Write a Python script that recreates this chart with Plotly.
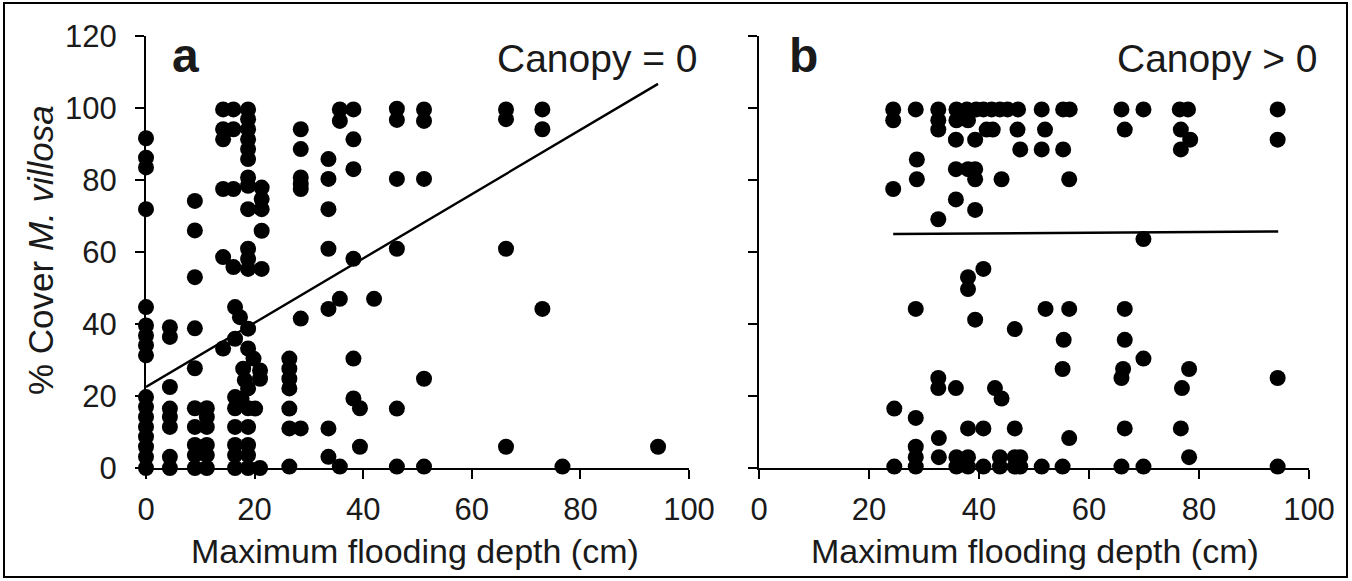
import plotly.graph_objects as go

# Panel a: plots without canopy (Canopy = 0)
a_depth = [
    0, 0, 0, 0, 0, 0, 0, 0, 0, 0, 0, 0, 0, 0, 0, 0, 0,
    4.4, 4.4, 4.4, 4.4, 4.4, 4.4, 4.4, 4.4,
    9, 9, 9, 9, 9, 9, 9, 9, 9, 9,
    11.2, 11.2, 11.2, 11.2, 11.2, 11.2,
    14.2, 14.2, 14.2, 14.2, 14.2, 14.2,
    16.1, 16.1, 16.1, 16.1,
    16.4, 16.4, 16.4, 16.4, 16.4, 16.4, 16.4, 16.4,
    17.3, 17.6, 17.9, 18.2,
    18.8, 18.8, 18.8, 18.8, 18.8, 18.8, 18.8, 18.8, 18.8, 18.8,
    18.8, 18.8, 18.8, 18.8, 18.8, 18.8, 18.8, 18.8, 18.8, 18.8,
    19.8, 20.1, 21, 21, 21,
    21.3, 21.3, 21.3, 21.3, 21.3,
    26.4, 26.4, 26.4, 26.4, 26.4, 26.4, 26.4,
    28.5, 28.5, 28.5, 28.5, 28.5, 28.5, 28.5,
    33.6, 33.6, 33.6, 33.6, 33.6, 33.6, 33.6,
    35.7, 35.7, 35.7, 35.7,
    38.2, 38.2, 38.2, 38.2, 38.2, 38.2,
    39.4, 39.4,
    42,
    46.2, 46.2, 46.2, 46.2, 46.2, 46.2,
    51.2, 51.2, 51.2, 51.2, 51.2,
    66.3, 66.3, 66.3, 66.3,
    73, 73, 73,
    76.7,
    94.3,
]
a_cover = [
    91.6, 86.2, 83.5, 71.9, 44.7, 39.6, 36.8, 34.1, 31.3, 19.7, 17.0, 14.2, 11.4, 8.7, 5.9, 3.1, 0,
    39.1, 36.4, 22.5, 16.5, 14.2, 11.4, 3.1, 0,
    74.2, 66, 53, 38.8, 27.7, 16.6, 11.4, 6.4, 3.6, 0,
    16.6, 14.2, 11.4, 6.4, 3.6, 0,
    99.6, 94.1, 91.3, 77.5, 58.6, 33.2,
    99.6, 94.1, 77.5, 55.8,
    44.7, 35.9, 19.7, 16.6, 11.4, 6.4, 3.6, 0,
    41.9, 19.3, 27.6, 24.4,
    99.6, 96.9, 94.1, 91.3, 88.6, 85.8, 80.7, 78.4, 71.9, 60.9,
    58.1, 55.3, 38.7, 33.2, 22.1, 16.6, 11.4, 6.4, 3.6, 0,
    30.4, 16.5, 27.1, 24.8, 0,
    77.9, 74.7, 71.9, 65.9, 55.3,
    30.4, 27.6, 24.8, 22.1, 16.5, 11, 0.4,
    94.1, 88.6, 80.7, 78.9, 77.5, 41.5, 11,
    85.8, 80.3, 71.9, 60.9, 44.2, 11, 3.1,
    99.6, 96.4, 47, 0.4,
    99.6, 91.3, 83, 58.1, 30.4, 19.3,
    16.6, 5.9,
    47,
    99.8, 96.7, 80.3, 60.9, 16.5, 0.4,
    99.6, 96.4, 80.3, 24.8, 0.4,
    99.6, 96.9, 60.9, 5.9,
    99.6, 94.1, 44.2,
    0.4,
    5.9,
]

# Panel b: plots with canopy (Canopy > 0)
b_depth = [
    24.4, 28.5, 32.6, 35.9, 37.8, 39.5, 40.8, 42.3, 43.8, 45.2, 47.1, 51.4, 55.3, 56.5,
    65.9, 69.9, 76.5, 78, 94.3,
    24.4, 32.6, 35.9, 38,
    32.6, 41.4, 42.5, 47, 52, 66.5, 76.7,
    35.8, 39.3, 78.4, 94.3,
    47.5, 51.4, 55.3, 76.7,
    28.7,
    35.8, 38, 39.3,
    28.7, 39.3, 44.1, 56.4,
    24.4, 35.8, 39.3, 32.6,
    69.9, 40.8, 38, 38,
    28.5, 52.1, 56.4, 66.5,
    39.3, 46.5, 55.4, 66.5, 69.9,
    55.2, 66.2, 78.2,
    32.6, 65.9, 94.3,
    32.6, 35.8, 42.9, 76.9,
    44.1, 24.6, 28.5,
    38, 40.8, 46.5, 66.5, 76.7,
    32.7, 56.4, 28.5,
    28.5, 32.7, 35.9, 38, 43.8, 46.5, 47.5, 78.2,
    24.6, 28.5, 35.9, 38, 40.8, 43.8, 46.5, 47.5, 51.4, 55.2, 65.9, 69.9, 94.3,
]
b_cover = [
    99.6, 99.6, 99.6, 99.6, 99.6, 99.6, 99.6, 99.6, 99.6, 99.6, 99.6, 99.6, 99.6, 99.6,
    99.6, 99.6, 99.6, 99.6, 99.6,
    96.6, 96.6, 96.6, 96.6,
    94, 94, 94, 94, 94, 94, 94,
    91.2, 91.2, 91.2, 91.2,
    88.5, 88.5, 88.5, 88.5,
    85.7,
    83, 83, 83,
    80.2, 80.2, 80.2, 80.2,
    77.5, 74.6, 71.7, 69.1,
    63.6, 55.3, 53, 49.7,
    44.2, 44.2, 44.2, 44.2,
    41.2, 38.6, 35.6, 35.6, 30.4,
    27.5, 27.5, 27.5,
    25, 25, 25,
    22.2, 22.2, 22.2, 22.2,
    19.3, 16.5, 13.9,
    11, 11, 11, 11, 11,
    8.3, 8.3, 5.9,
    3, 3, 3, 3, 3, 3, 3, 3,
    0.4, 0.4, 0.4, 0.4, 0.4, 0.4, 0.4, 0.4, 0.4, 0.4, 0.4, 0.4, 0.4,
]

# Fitted trend lines (end points)
a_fit_x = [0, 94.3]
a_fit_y = [22.5, 106.7]
b_fit_x = [24.4, 94.4]
b_fit_y = [65.0, 65.7]

x_ticks = [0, 20, 40, 60, 80, 100]
y_ticks = [0, 20, 40, 60, 80, 100, 120]

FONT = "Arial, Liberation Sans, Helvetica, sans-serif"
INK = "#1a1a1a"
W, H = 1352, 581

# pixel layout of the two panels
ax_a = (146, 689)
ax_b = (759, 1309)
ay = (36, 468)  # top, bottom


def px_x(v):
    return v / W


def px_y(v):
    return (H - v) / H


marker = dict(size=16, color="black", line=dict(width=0))

fig = go.Figure()
fig.add_trace(go.Scatter(x=a_depth, y=a_cover, mode="markers", marker=marker,
                         cliponaxis=False, xaxis="x", yaxis="y", showlegend=False))
fig.add_trace(go.Scatter(x=a_fit_x, y=a_fit_y, mode="lines",
                         line=dict(color="black", width=2.4),
                         cliponaxis=False, xaxis="x", yaxis="y", showlegend=False))
fig.add_trace(go.Scatter(x=b_depth, y=b_cover, mode="markers", marker=marker,
                         cliponaxis=False, xaxis="x2", yaxis="y2", showlegend=False))
fig.add_trace(go.Scatter(x=b_fit_x, y=b_fit_y, mode="lines",
                         line=dict(color="black", width=2.4),
                         cliponaxis=False, xaxis="x2", yaxis="y2", showlegend=False))

tick_font = dict(family=FONT, size=31, color=INK)
common_x = dict(range=[0, 100], tickvals=x_ticks, ticks="outside", ticklen=9,
                tickwidth=2, tickcolor="black", showline=True, linewidth=2,
                linecolor="black", showgrid=False, zeroline=False,
                tickfont=tick_font, layer="below traces", ticklabelstandoff=4,
                automargin=False)
common_y = dict(range=[0, 120], tickvals=y_ticks, ticks="outside", ticklen=9,
                tickwidth=2, tickcolor="black", showline=True, linewidth=2,
                linecolor="black", showgrid=False, zeroline=False,
                tickfont=tick_font, layer="below traces", ticklabelstandoff=12,
                automargin=False, domain=[px_y(ay[1]), px_y(ay[0])])

fig.update_layout(
    width=W, height=H,
    margin=dict(l=0, r=0, t=0, b=0, autoexpand=False),
    paper_bgcolor="white", plot_bgcolor="white",
    font=dict(family=FONT, color=INK),
    xaxis=dict(common_x, domain=[px_x(ax_a[0]), px_x(ax_a[1])], anchor="y"),
    yaxis=dict(common_y, anchor="x"),
    xaxis2=dict(common_x, domain=[px_x(ax_b[0]), px_x(ax_b[1])], anchor="y2"),
    yaxis2=dict(common_y, anchor="x2", showticklabels=False),
)

xtitle_font = dict(family=FONT, size=34, color=INK)
ytitle_font = dict(family=FONT, size=35, color=INK)
letter_font = dict(family=FONT, size=48, color=INK)
canopy_font = dict(family=FONT, size=39, color=INK)
annotations = [
    dict(text="Maximum flooding depth (cm)", x=px_x(415), y=px_y(551),
         xref="paper", yref="paper", showarrow=False, font=xtitle_font,
         xanchor="center", yanchor="middle"),
    dict(text="Maximum flooding depth (cm)", x=px_x(1035), y=px_y(551),
         xref="paper", yref="paper", showarrow=False, font=xtitle_font,
         xanchor="center", yanchor="middle"),
    dict(text="% Cover <i>M. villosa</i>", x=px_x(40), y=px_y(250),
         xref="paper", yref="paper", showarrow=False, font=ytitle_font,
         textangle=-90, xanchor="center", yanchor="middle"),
    dict(text="<b>a</b>", x=px_x(170), y=px_y(55), xref="paper", yref="paper",
         showarrow=False, font=letter_font, xanchor="left", yanchor="middle"),
    dict(text="<b>b</b>", x=px_x(787), y=px_y(55), xref="paper", yref="paper",
         showarrow=False, font=letter_font, xanchor="left", yanchor="middle"),
    dict(text="Canopy = 0", x=px_x(700), y=px_y(58), xref="paper", yref="paper",
         showarrow=False, font=canopy_font, xanchor="right", yanchor="middle"),
    dict(text="Canopy > 0", x=px_x(1320), y=px_y(58), xref="paper", yref="paper",
         showarrow=False, font=canopy_font, xanchor="right", yanchor="middle"),
]
fig.update_layout(annotations=annotations)

# frame around the whole figure
fig.add_shape(type="rect", xref="paper", yref="paper",
              x0=px_x(4), x1=px_x(1347), y0=px_y(577), y1=px_y(3),
              line=dict(color="black", width=2), fillcolor="rgba(0,0,0,0)")

fig.write_html("out.html")
